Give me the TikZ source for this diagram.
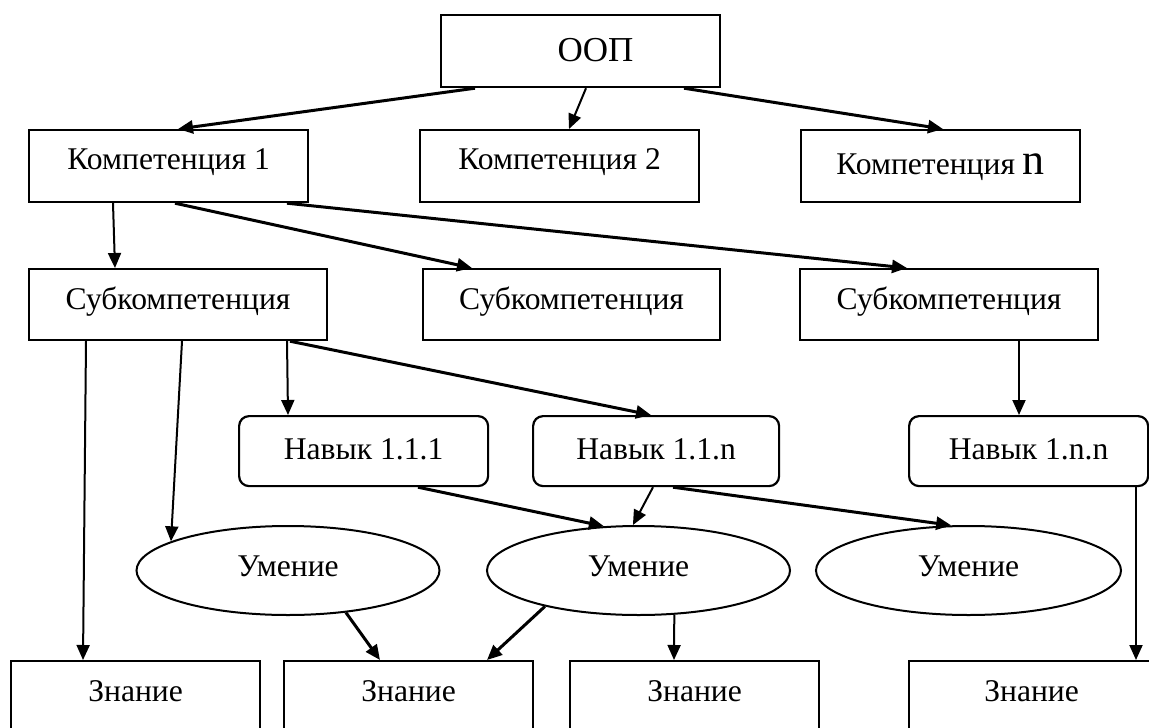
\documentclass[tikz,border=0pt]{standalone}
\usepackage{fontspec}
\setmainfont{Liberation Serif}
\usetikzlibrary{arrows.meta,shapes.geometric}
\tikzset{
  box/.style={draw, line width=2.2pt, rectangle, inner sep=0pt, anchor=north west,
    text depth=0pt, font=\fontsize{31.6}{36}\selectfont},
  rbox/.style={box, rounded corners=10pt},
  oval/.style={draw, line width=2pt, ellipse, inner sep=0pt, minimum width=303pt, minimum height=89pt,
    text depth=0pt, text height=11pt, font=\fontsize{31.6}{36}\selectfont},
  thin arrow/.style={line width=2pt, -{Triangle[length=15pt,width=13pt]}},
  thick arrow/.style={line width=3pt, -{Triangle[length=15pt,width=13pt]}},
}
\begin{document}
\begin{tikzpicture}[x=1pt,y=-1pt]
\useasboundingbox (0,0) rectangle (1149,728);
% level 0
\node[box, minimum width=279pt, minimum height=72pt, text height=20pt, font=\fontsize{35}{40}\selectfont] (oop) at (440,14) {\hspace*{30pt}ООП};
% level 1
\node[box, minimum width=279pt, minimum height=72pt, text height=7pt] (k1) at (28,129) {Компетенция 1};
\node[box, minimum width=279pt, minimum height=72pt, text height=6pt] (k2) at (419,129) {Компетенция 2};
\node[box, minimum width=279pt, minimum height=72pt, text height=16pt] (kn) at (800,129) {Компетенция {\fontsize{44}{44}\selectfont n}};
% level 2
\node[box, minimum width=298pt, minimum height=71pt, text height=9pt] (s1) at (28,268) {Субкомпетенция};
\node[box, minimum width=297pt, minimum height=71pt, text height=9pt] (s2) at (422,268) {Субкомпетенция};
\node[box, minimum width=298pt, minimum height=71pt, text height=9pt] (s3) at (799,268) {Субкомпетенция};
% level 3
\node[rbox, minimum width=249pt, minimum height=70pt, text height=16pt] (n1) at (238,415) {Навык 1.1.1};
\node[rbox, minimum width=246pt, minimum height=70pt, text height=16pt] (n2) at (532,415) {Навык 1.1.n};
\node[rbox, minimum width=239pt, minimum height=70pt, text height=16pt] (n3) at (908,415) {Навык 1.n.n};
% level 4
\node[oval] (u1) at (288,570.5) {Умение};
\node[oval] (u2) at (638.5,570.5) {Умение};
\node[oval, minimum width=305pt] (u3) at (968.5,570.5) {Умение};
% level 5
\node[box, minimum width=249pt, minimum height=70pt, text height=10pt] (z1) at (10,660) {Знание};
\node[box, minimum width=249pt, minimum height=70pt, text height=10pt] (z2) at (283,660) {Знание};
\node[box, minimum width=249pt, minimum height=70pt, text height=10pt] (z3) at (569,660) {Знание};
\node[box, minimum width=245pt, minimum height=70pt, text height=10pt] (z4) at (908,660) {Знание};
% connectors
\draw[thick arrow] ([xshift=35pt]oop.south west) -- ([xshift=150pt]k1.north west);
\draw[thin arrow] ([xshift=146pt]oop.south west) -- ([xshift=150pt]k2.north west);
\draw[thick arrow] ([xshift=244pt]oop.south west) -- ([xshift=143pt]kn.north west);
\draw[thin arrow] ([xshift=85pt]k1.south west) -- ([xshift=87pt]s1.north west);
\draw[thick arrow] ([xshift=147pt]k1.south west) -- ([xshift=50pt]s2.north west);
\draw[thick arrow] ([xshift=259pt]k1.south west) -- ([xshift=108pt]s3.north west);
\draw[thin arrow] ([xshift=58pt]s1.south west) -- ([xshift=73pt]z1.north west);
\draw[thin arrow] ([xshift=154pt]s1.south west) -- (u1.166);
\draw[thin arrow] ([xshift=259pt]s1.south west) -- ([xshift=50pt]n1.north west);
\draw[thick arrow] ([xshift=262pt]s1.south west) -- ([xshift=119pt]n2.north west);
\draw[thin arrow] ([xshift=220pt]s3.south west) -- ([xshift=111pt]n3.north west);
\draw[thick arrow] ([xshift=180pt]n1.south west) -- (u2.128);
\draw[thin arrow] ([xshift=121pt]n2.south west) -- (u2.97);
\draw[thick arrow] ([xshift=141pt]n2.south west) -- (u3.111);
\draw[thin arrow] ([xshift=228pt]n3.south west) -- ([xshift=228pt]z4.north west);
\draw[thick arrow] (u1.-36) -- ([xshift=97pt]z2.north west);
\draw[thick arrow] (u2.201) -- ([xshift=204pt]z2.north west);
\draw[thin arrow] (u2.-51) -- ([xshift=105pt]z3.north west);
\end{tikzpicture}
\end{document}
